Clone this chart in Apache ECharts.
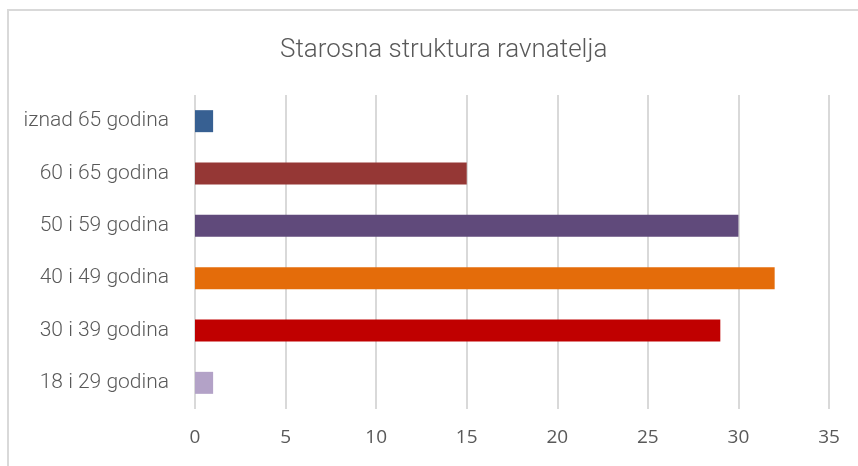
<!DOCTYPE html>
<html>
<head>
<meta charset="utf-8">
<script src="https://cdn.jsdelivr.net/npm/echarts@6/dist/echarts.min.js"></script>
<style>
  html, body { margin: 0; padding: 0; background: #fff; }
  .frame { position: absolute; left: 7px; top: 9px; width: 900px; height: 500px; border: 2px solid #d9d9d9; box-sizing: border-box; }
  #chart { position: absolute; left: 0; top: 0; width: 858px; height: 466px; }
</style>
</head>
<body>
<div class="frame"></div>
<div id="chart"></div>
<script>
// bottom to top, as the axis draws them
const categories = ['18 i 29 godina', '30 i 39 godina', '40 i 49 godina', '50 i 59 godina', '60 i 65 godina', 'iznad 65 godina']
const values = [1, 29, 32, 30, 15, 1]
const barColors = ['#b3a2c7', '#c00000', '#e46c0a', '#604a7b', '#953735', '#376092']

const chart = echarts.init(document.getElementById('chart'))

chart.setOption({
  animation: false,
  title: {
    text: 'Starosna struktura ravnatelja',
    left: 275,
    top: 32,
    textStyle: {
      color: '#595959',
      fontSize: 26,
      fontWeight: 300,
      fontFamily: 'Roboto'
    }
  },
  grid: { left: 195, right: 29, top: 95, bottom: 57 },
  xAxis: {
    type: 'value',
    min: 0,
    max: 35,
    interval: 5,
    axisLine: { show: false },
    axisTick: { show: false },
    axisLabel: { color: '#595959', fontSize: 19, margin: 19, fontFamily: 'Open Sans' },
    splitLine: { lineStyle: { color: '#d9d9d9', width: 2 } }
  },
  yAxis: {
    type: 'category',
    data: categories,
    axisLine: { show: false },
    axisTick: { show: false },
    axisLabel: { color: '#595959', fontSize: 21, margin: 26, fontFamily: 'Roboto', fontWeight: 300 }
  },
  series: [{
    type: 'bar',
    barWidth: 22,
    data: values.map((v, i) => ({ value: v, itemStyle: { color: barColors[i] } }))
  }]
})
</script>
</body>
</html>
